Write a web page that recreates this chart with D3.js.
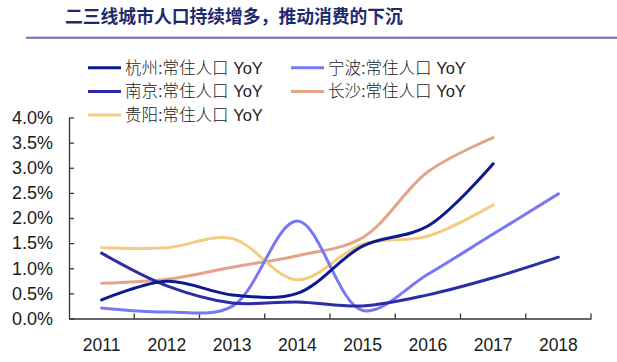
<!doctype html>
<html>
<head>
<meta charset="utf-8">
<style>
  body { margin: 0; background: #fff; }
  text { font-family: "Liberation Sans", Arial, "Noto Sans CJK SC", sans-serif; fill: #1a1a1a; }
  .title { font-family: "Noto Sans CJK SC", sans-serif; font-weight: bold; font-size: 17.8px; fill: #1f2a6e; }
  .legend text { font-weight: 300; fill: #222; }
</style>
<script src="https://cdn.jsdelivr.net/npm/d3@7/dist/d3.min.js"></script>
</head>
<body>
<div id="chart"></div>
<script>
// years on the x axis
var years = ["2011", "2012", "2013", "2014", "2015", "2016", "2017", "2018"];
// resident population YoY, %
var hangzhou  = [0.37, 0.74, 0.47, 0.50, 1.44, 1.84, 3.08];
var ningbo    = [0.21, 0.13, 0.24, 1.94, 0.16, 0.88, 1.68, 2.48];
var nanjing   = [1.30, 0.65, 0.31, 0.33, 0.25, 0.47, 0.81, 1.22];
var changsha  = [0.70, 0.78, 1.02, 1.25, 1.61, 2.92, 3.60];
var guiyang   = [1.41, 1.41, 1.59, 0.77, 1.48, 1.64, 2.26];
var yTicks = [0, 0.5, 1.0, 1.5, 2.0, 2.5, 3.0, 3.5, 4.0];

var seriesNames = ["杭州:常住人口 YoY", "宁波:常住人口 YoY", "南京:常住人口 YoY", "长沙:常住人口 YoY", "贵阳:常住人口 YoY"];
var seriesData = [hangzhou, ningbo, nanjing, changsha, guiyang];
var colors = ["#0b1a8c", "#7878f6", "#2c2ca4", "#e3a48a", "#f6cb80"];

var width = 617, height = 362;
var svg = d3.select("#chart").append("svg")
  .attr("width", width).attr("height", height);

// title + rule under it
svg.append("text").attr("class", "title")
  .attr("x", 65).attr("y", 23)
  .text("二三线城市人口持续增多，推动消费的下沉");
svg.append("line")
  .attr("x1", 26).attr("x2", width).attr("y1", 37.7).attr("y2", 37.7)
  .attr("stroke", "#6e6eb4").attr("stroke-width", 2);

var x = d3.scaleBand().domain(years).range([69, 591]);
var y = d3.scaleLinear().domain([0, 4]).range([318.5, 117.5]);

// y axis, ticks point inward
var yAxis = svg.append("g")
  .attr("transform", "translate(69,0)")
  .call(d3.axisLeft(y).tickValues(yTicks).tickFormat(function(d){ return d.toFixed(1) + "%"; })
    .tickSizeInner(-5).tickSizeOuter(0).tickPadding(16));
yAxis.selectAll("text").style("font-size", "18px").attr("fill", "#1a1a1a");
yAxis.selectAll("line, path").attr("stroke", "#333").attr("stroke-width", 1.3);

// x axis labels at band centres, ticks at band edges
var xAxis = svg.append("g")
  .attr("transform", "translate(0,318.5)")
  .call(d3.axisBottom(x).tickSize(0).tickPadding(20));
xAxis.selectAll("text").style("font-size", "17.5px").attr("fill", "#1a1a1a");
xAxis.select("path").attr("stroke", "#333").attr("stroke-width", 1.3);
var edges = years.slice(1).map(function(d){ return x(d); }).concat([x.range()[1]]);
xAxis.selectAll(".edge").data(edges).enter().append("line")
  .attr("class", "edge")
  .attr("x1", function(d){ return d; }).attr("x2", function(d){ return d; })
  .attr("y1", 0).attr("y2", -5)
  .attr("stroke", "#333").attr("stroke-width", 1.3);

var line = d3.line()
  .x(function(d, i){ return x(years[i]) + x.bandwidth() / 2; })
  .y(function(d){ return y(d); })
  .curve(d3.curveCatmullRom.alpha(0.5));

// draw order: light lines first, dark on top
var order = [3, 4, 1, 2, 0];
order.forEach(function(k){
  svg.append("path")
    .datum(seriesData[k])
    .attr("d", line)
    .attr("fill", "none")
    .attr("stroke", colors[k])
    .attr("stroke-width", 3)
    .attr("stroke-linecap", "round");
});

// legend: two columns, three rows
var legend = svg.append("g").attr("class", "legend");
seriesNames.forEach(function(name, i){
  var col = i % 2, row = Math.floor(i / 2);
  var lx = col === 0 ? 88 : 291;
  var ly = 67.7 + row * 23.7;
  legend.append("line")
    .attr("x1", lx).attr("x2", lx + 33).attr("y1", ly).attr("y2", ly)
    .attr("stroke", colors[i]).attr("stroke-width", 3);
  legend.append("text")
    .attr("x", lx + 37).attr("y", ly + 6)
    .style("font-size", "16.5px")
    .text(name);
});
</script>
</body>
</html>
